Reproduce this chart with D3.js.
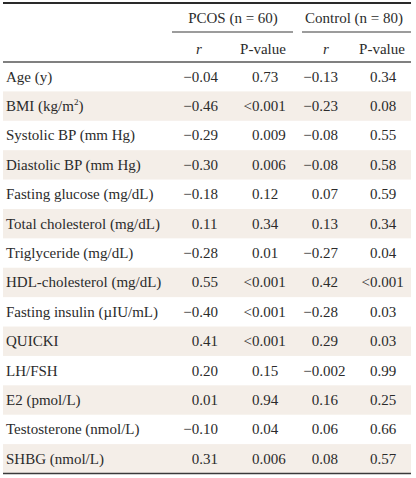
<!DOCTYPE html>
<html><head><meta charset="utf-8">
<script src="https://cdn.jsdelivr.net/npm/d3@7/dist/d3.min.js"></script>
<style>body{margin:0;background:#fff}svg{display:block}text{font-family:"Liberation Serif","Times New Roman",serif;font-size:15px;fill:#2b2b2b}</style>
</head><body><div id="chart"></div>
<script>
const variables = ["Age (y)","BMI (kg/m2)","Systolic BP (mm Hg)","Diastolic BP (mm Hg)","Fasting glucose (mg/dL)","Total cholesterol (mg/dL)","Triglyceride (mg/dL)","HDL-cholesterol (mg/dL)","Fasting insulin (\u00b5IU/mL)","QUICKI","LH/FSH","E2 (pmol/L)","Testosterone (nmol/L)","SHBG (nmol/L)"];
const pcosR = ["\u22120.04","\u22120.46","\u22120.29","\u22120.30","\u22120.18","0.11","\u22120.28","0.55","\u22120.40","0.41","0.20","0.01","\u22120.10","0.31"];
const pcosP = ["0.73","<0.001","0.009","0.006","0.12","0.34","0.01","<0.001","<0.001","<0.001","0.15","0.94","0.04","0.006"];
const ctrlR = ["\u22120.13","\u22120.23","\u22120.08","\u22120.08","0.07","0.13","\u22120.27","0.42","\u22120.28","0.29","\u22120.002","0.16","0.06","0.08"];
const ctrlP = ["0.34","0.08","0.55","0.58","0.59","0.34","0.04","<0.001","0.03","0.03","0.99","0.25","0.66","0.57"];
const groups = ["PCOS (n = 60)","Control (n = 80)"];
const subHeaders = ["r","P-value","r","P-value"];

const W=416,H=478;
const svg=d3.select("#chart").append("svg").attr("width",W).attr("height",H);
const x0=3,x1=411;
const headTop=3, headBottom=62, tableBottom=473.5;
const y=d3.scaleBand().domain(d3.range(variables.length)).range([headBottom,tableBottom]).padding(0);

// shading
svg.selectAll("rect.shade").data(d3.range(variables.length).filter(i=>i%2===1)).enter()
  .append("rect").attr("x",x0).attr("width",x1-x0).attr("y",i=>y(i)).attr("height",y.bandwidth())
  .attr("fill","#f4eee8");

// lines
svg.append("line").attr("x1",x0).attr("x2",x1).attr("y1",headTop).attr("y2",headTop).attr("stroke","#2a2a2a").attr("stroke-width",2);
svg.append("line").attr("x1",x0).attr("x2",x1).attr("y1",headBottom).attr("y2",headBottom).attr("stroke","#808080").attr("stroke-width",2);
svg.append("line").attr("x1",x0).attr("x2",x1).attr("y1",tableBottom).attr("y2",tableBottom).attr("stroke","#3a3a3a").attr("stroke-width",1.6);

// group headers
const groupSpan=[[172,293],[302,411]];
const groupCenter=[233,354];
groups.forEach((g,i)=>{
  svg.append("text").attr("x",groupCenter[i]).attr("y",23).attr("text-anchor","middle").text(g);
  svg.append("line").attr("x1",groupSpan[i][0]).attr("x2",groupSpan[i][1]).attr("y1",32).attr("y2",32).attr("stroke","#3a3a3a").attr("stroke-width",1.2);
});
const subCenter=[199,263,326,382];
subHeaders.forEach((s,i)=>{
  svg.append("text").attr("x",subCenter[i]).attr("y",54).attr("text-anchor","middle")
    .attr("font-style",s==="r"?"italic":"normal").text(s);
});

// row labels
const labels=svg.selectAll("text.lab").data(variables).enter().append("text")
  .attr("x",6).attr("y",(d,i)=>y(i)+y.bandwidth()/2+5);
labels.each(function(d){
  const t=d3.select(this);
  if(d==="BMI (kg/m2)"){
    t.append("tspan").text("BMI (kg/m");
    t.append("tspan").attr("font-size","9px").attr("dy",-6).text("2");
    t.append("tspan").attr("dy",6).text(")");
  } else t.text(d);
});

// decimal-aligned columns
const cols=[pcosR,pcosP,ctrlR,ctrlP];
const decX=[199.3,259.5,319.3,377.5];
cols.forEach((col,c)=>{
  col.forEach((v,i)=>{
    const k=v.indexOf(".");
    const yy=y(i)+y.bandwidth()/2+5;
    svg.append("text").attr("x",decX[c]).attr("y",yy).attr("text-anchor","end").text(v.slice(0,k));
    svg.append("text").attr("x",decX[c]).attr("y",yy).attr("text-anchor","start").text(v.slice(k));
  });
});
</script></body></html>
